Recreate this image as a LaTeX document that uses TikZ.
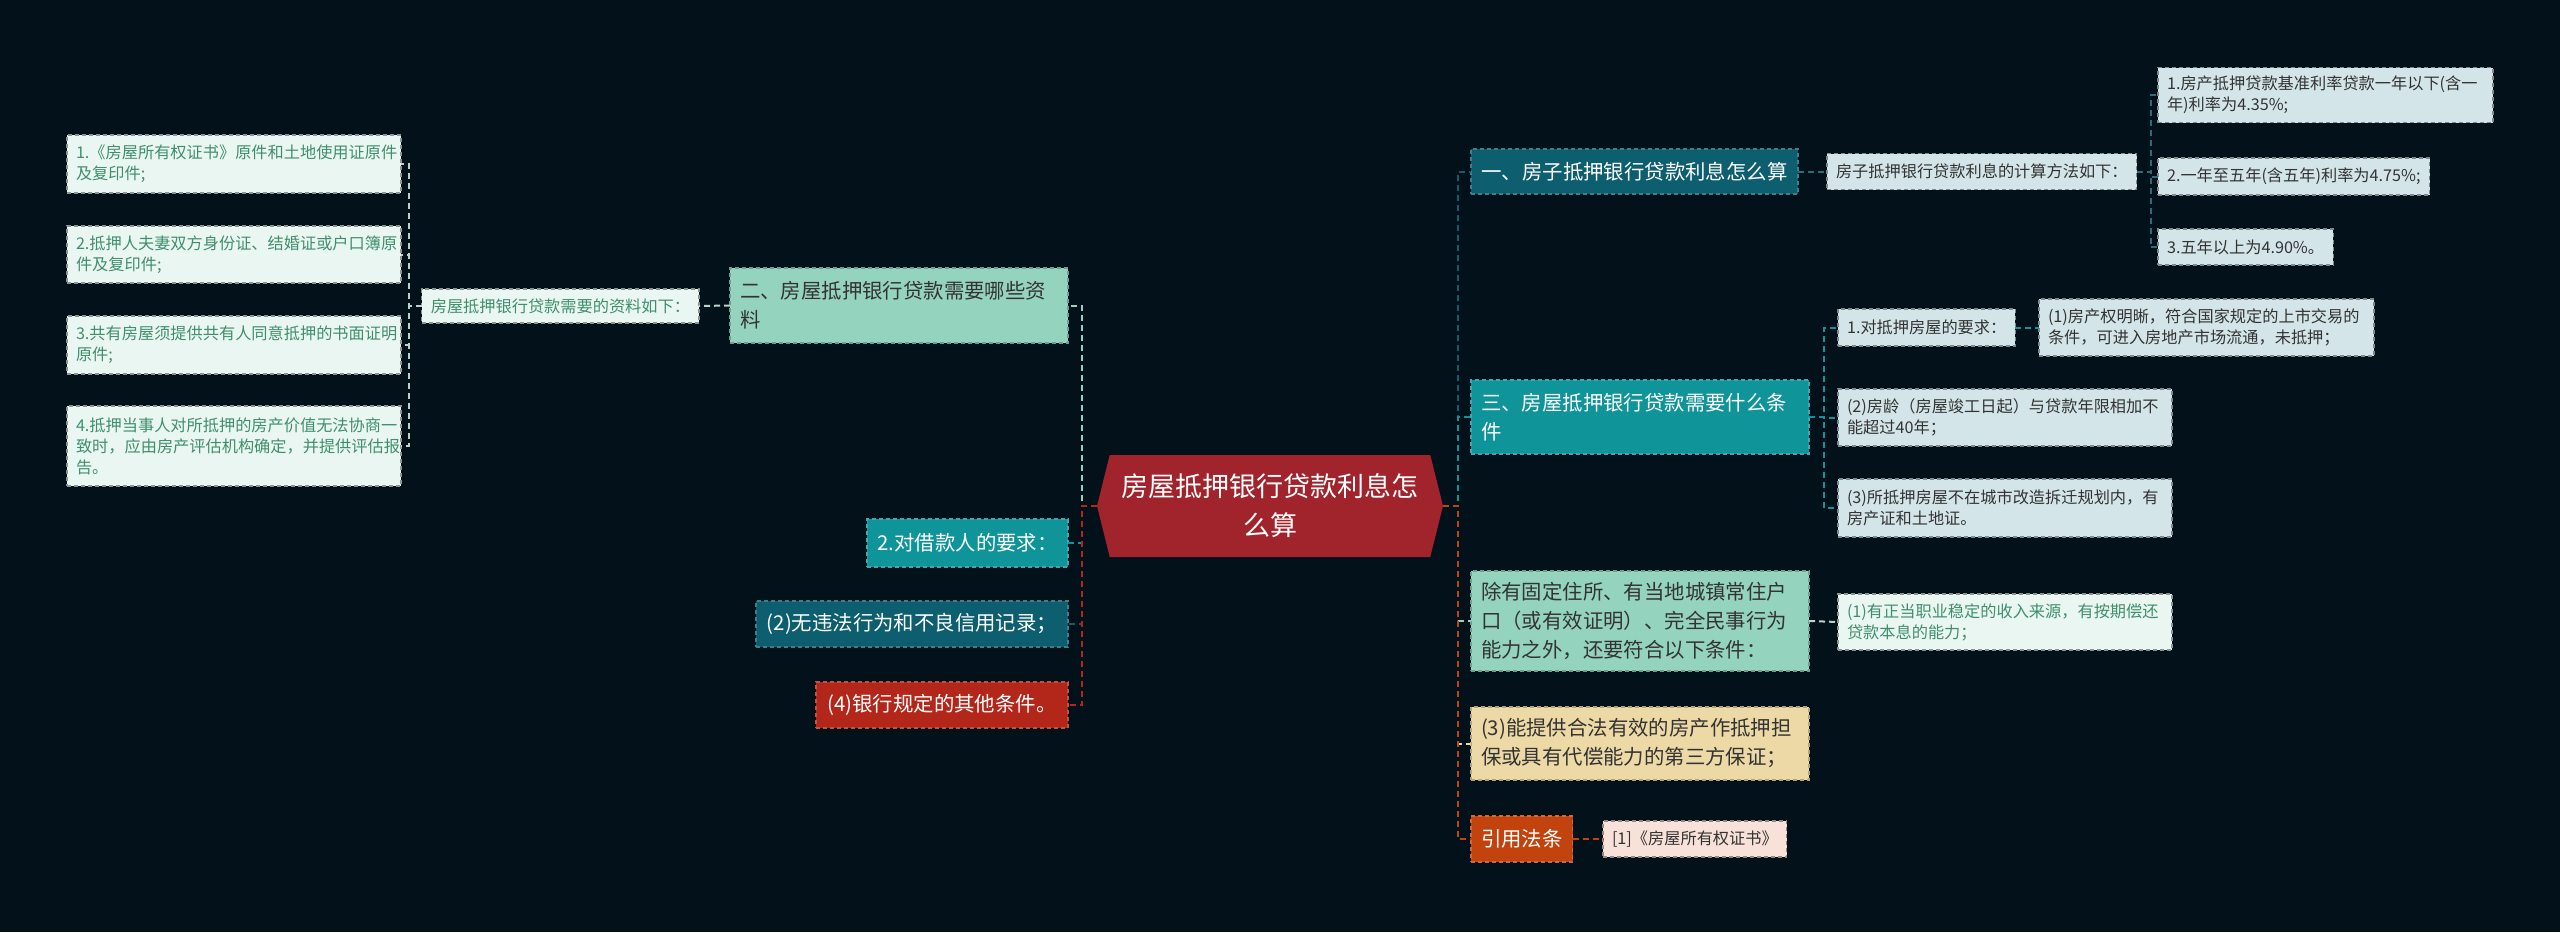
\documentclass[tikz,border=0pt]{standalone}
\usepackage{fontspec}
\setmainfont{Noto Sans CJK SC}
\usetikzlibrary{shapes.symbols}
\definecolor{bgc}{HTML}{03111B}
\definecolor{cred}{HTML}{A1232B}
\definecolor{mintc}{HTML}{94D3BE}
\definecolor{tealc}{HTML}{0F9499}
\definecolor{dteal}{HTML}{0D5F6F}
\definecolor{redc}{HTML}{B3271A}
\definecolor{wheat}{HTML}{EDD9A6}
\definecolor{orng}{HTML}{C3430F}
\definecolor{lbg}{HTML}{D3E5E8}
\definecolor{lmint}{HTML}{EAF6F1}
\definecolor{lpink}{HTML}{F7E1D8}
\definecolor{gtext}{HTML}{3F8F6E}
\definecolor{dtext}{HTML}{333333}
\definecolor{brk}{HTML}{B9D3CA}
\definecolor{brkb}{HTML}{2E6B78}
\begin{document}
\begin{tikzpicture}[x=0.5pt,y=-0.5pt,
  box/.style={rectangle, draw, dash pattern=on 2pt off 1.5pt, line width=0.6pt, inner ysep=2pt, inner xsep=5pt, outer sep=0pt},
  big/.style={box, font=\fontsize{10.2pt}{14.5pt}\selectfont},
  small/.style={box, inner xsep=4.5pt, font=\fontsize{8.1pt}{10.5pt}\selectfont},
  darkbox/.style={big, fill=#1, draw=white!20!#1, text=white},
  lightbig/.style={big, fill=#1, draw=black!25!#1, text=dtext},
  mintsmall/.style={small, fill=lmint, draw=lmint!60!black, text=gtext},
  bluesmall/.style={small, fill=lbg, draw=lbg!60!black, text=dtext},
  conn/.style={dash pattern=on 3pt off 2pt, line width=1pt}
]
\fill[bgc] (0,0) rectangle (2560,932);
\useasboundingbox (0,0) rectangle (2560,932);

% central
\node[signal, signal to=west and east, signal pointer angle=152, fill=cred, text=white,
  minimum width=173pt, minimum height=51pt, align=center, inner sep=2pt,
  font=\fontsize{13.5pt}{19.5pt}\selectfont] (C) at (1270,506) {房屋抵押银行贷款利息怎\\么算};

% left side
\node[mintsmall, text width=158pt, minimum height=29pt, anchor=north east, align=left] (L1) at (401,135) {1.《房屋所有权证书》原件和土地使用证原件\\及复印件;};
\node[mintsmall, text width=158pt, minimum height=28.5pt, anchor=north east, align=left] (L2) at (401,226) {2.抵押人夫妻双方身份证、结婚证或户口簿原\\件及复印件;};
\node[mintsmall, text width=158pt, minimum height=29pt, anchor=north east, align=left] (L3) at (401,316) {3.共有房屋须提供共有人同意抵押的书面证明\\原件;};
\node[mintsmall, text width=158pt, minimum height=40pt, anchor=north east, align=left] (L4) at (401,406) {4.抵押当事人对所抵押的房产价值无法协商一\\致时，应由房产评估机构确定，并提供评估报\\告。};
\node[mintsmall, minimum width=135pt, minimum height=17pt, anchor=east] (M) at (699,306) {房屋抵押银行贷款需要的资料如下：};
\node[lightbig=mintc, text width=159pt, minimum height=37.5pt, anchor=east, align=left] (N2) at (1068,305.5) {二、房屋抵押银行贷款需要哪些资\\料};
\node[darkbox=tealc, minimum width=100.5pt, minimum height=24pt, anchor=east] (N2a) at (1068,543) {2.对借款人的要求：};
\node[darkbox=dteal, minimum width=156pt, minimum height=23pt, anchor=east] (N2b) at (1068,624) {(2)无违法行为和不良信用记录；};
\node[darkbox=redc, minimum width=126pt, minimum height=23pt, anchor=east] (N2c) at (1068,705) {(4)银行规定的其他条件。};

% right side
\node[darkbox=dteal, minimum width=163.5pt, minimum height=22.5pt, anchor=west] (R1) at (1471,171.5) {一、房子抵押银行贷款利息怎么算};
\node[bluesmall, minimum width=151.5pt, minimum height=18pt, anchor=west] (R1m) at (1827,171.5) {房子抵押银行贷款利息的计算方法如下：};
\node[bluesmall, text width=158.5pt, minimum height=27.5pt, anchor=west, align=left] (R1a) at (2158,95) {1.房产抵押贷款基准利率贷款一年以下(含一\\年)利率为4.35\%;};
\node[bluesmall, minimum width=132.5pt, minimum height=18.5pt, anchor=west] (R1b) at (2158,176.5) {2.一年至五年(含五年)利率为4.75\%;};
\node[bluesmall, minimum width=85pt, minimum height=18pt, anchor=west] (R1c) at (2158,247) {3.五年以上为4.90\%。};

\node[darkbox=tealc, text width=159pt, minimum height=37pt, anchor=west, align=left] (R3) at (1471,417) {三、房屋抵押银行贷款需要什么条\\件};
\node[bluesmall, minimum width=86.5pt, minimum height=18.5pt, anchor=west] (R3a) at (1838,327.5) {1.对抵押房屋的要求：};
\node[bluesmall, text width=158.5pt, minimum height=28.5pt, anchor=west, align=left] (R3a1) at (2039,327.5) {(1)房产权明晰，符合国家规定的上市交易的\\条件，可进入房地产市场流通，未抵押；};
\node[bluesmall, text width=158pt, minimum height=28.5pt, anchor=west, align=left] (R3b) at (1838,417.5) {(2)房龄（房屋竣工日起）与贷款年限相加不\\能超过40年；};
\node[bluesmall, text width=158pt, minimum height=29pt, anchor=west, align=left] (R3c) at (1838,508) {(3)所抵押房屋不在城市改造拆迁规划内，有\\房产证和土地证。};

\node[lightbig=mintc, text width=159pt, minimum height=50pt, anchor=west, align=left] (R4) at (1471,621) {除有固定住所、有当地城镇常住户\\口（或有效证明）、完全民事行为\\能力之外，还要符合以下条件：};
\node[mintsmall, text width=158pt, minimum height=28pt, anchor=west, align=left] (R4a) at (1838,622) {(1)有正当职业稳定的收入来源，有按期偿还\\贷款本息的能力；};
\node[lightbig=wheat, text width=159pt, minimum height=36.5pt, anchor=west, align=left] (R5) at (1471,743.5) {(3)能提供合法有效的房产作抵押担\\保或具有代偿能力的第三方保证；};
\node[darkbox=orng, minimum width=50.5pt, minimum height=23pt, anchor=west] (R6) at (1471,839) {引用法条};
\node[small, fill=lpink, draw=lpink!60!black, text=dtext, minimum width=89pt, minimum height=18pt, anchor=west] (R6a) at (1603,839) {[1]《房屋所有权证书》};

% left connectors
\draw[conn, mintc] (C.west) -- ++(-15,0) |- (N2.east);
\draw[conn, tealc] (C.west) -- ++(-15,0) |- (N2a.east);
\draw[conn, dteal] (C.west) -- ++(-15,0) |- (N2b.east);
\draw[conn, redc] (C.west) -- ++(-15,0) |- (N2c.east);
\draw[conn, brk] (N2.west) -- (M.east);
\foreach \n in {L1,L2,L3,L4} \draw[conn, brk] (M.west) -- ++(-13,0) |- (\n.east);

% right connectors
\draw[conn, dteal] (C.east) -- ++(15,0) |- (R1.west);
\draw[conn, tealc] (C.east) -- ++(15,0) |- (R3.west);
\draw[conn, mintc] (C.east) -- ++(15,0) |- (R4.west);
\draw[conn, wheat] (C.east) -- ++(15,0) |- (R5.west);
\draw[conn, orng] (C.east) -- ++(15,0) |- (R6.west);
\draw[conn, brkb] (R1.east) -- (R1m.west);
\foreach \n in {R1a,R1b,R1c} \draw[conn, brkb] (R1m.east) -- ++(14,0) |- (\n.west);
\foreach \n in {R3a,R3b,R3c} \draw[conn, tealc] (R3.east) -- ++(15,0) |- (\n.west);
\draw[conn, tealc] (R3a.east) -- (R3a1.west);
\draw[conn, brk] (R4.east) -- (R4a.west);
\draw[conn, orng] (R6.east) -- (R6a.west);
\end{tikzpicture}
\end{document}
